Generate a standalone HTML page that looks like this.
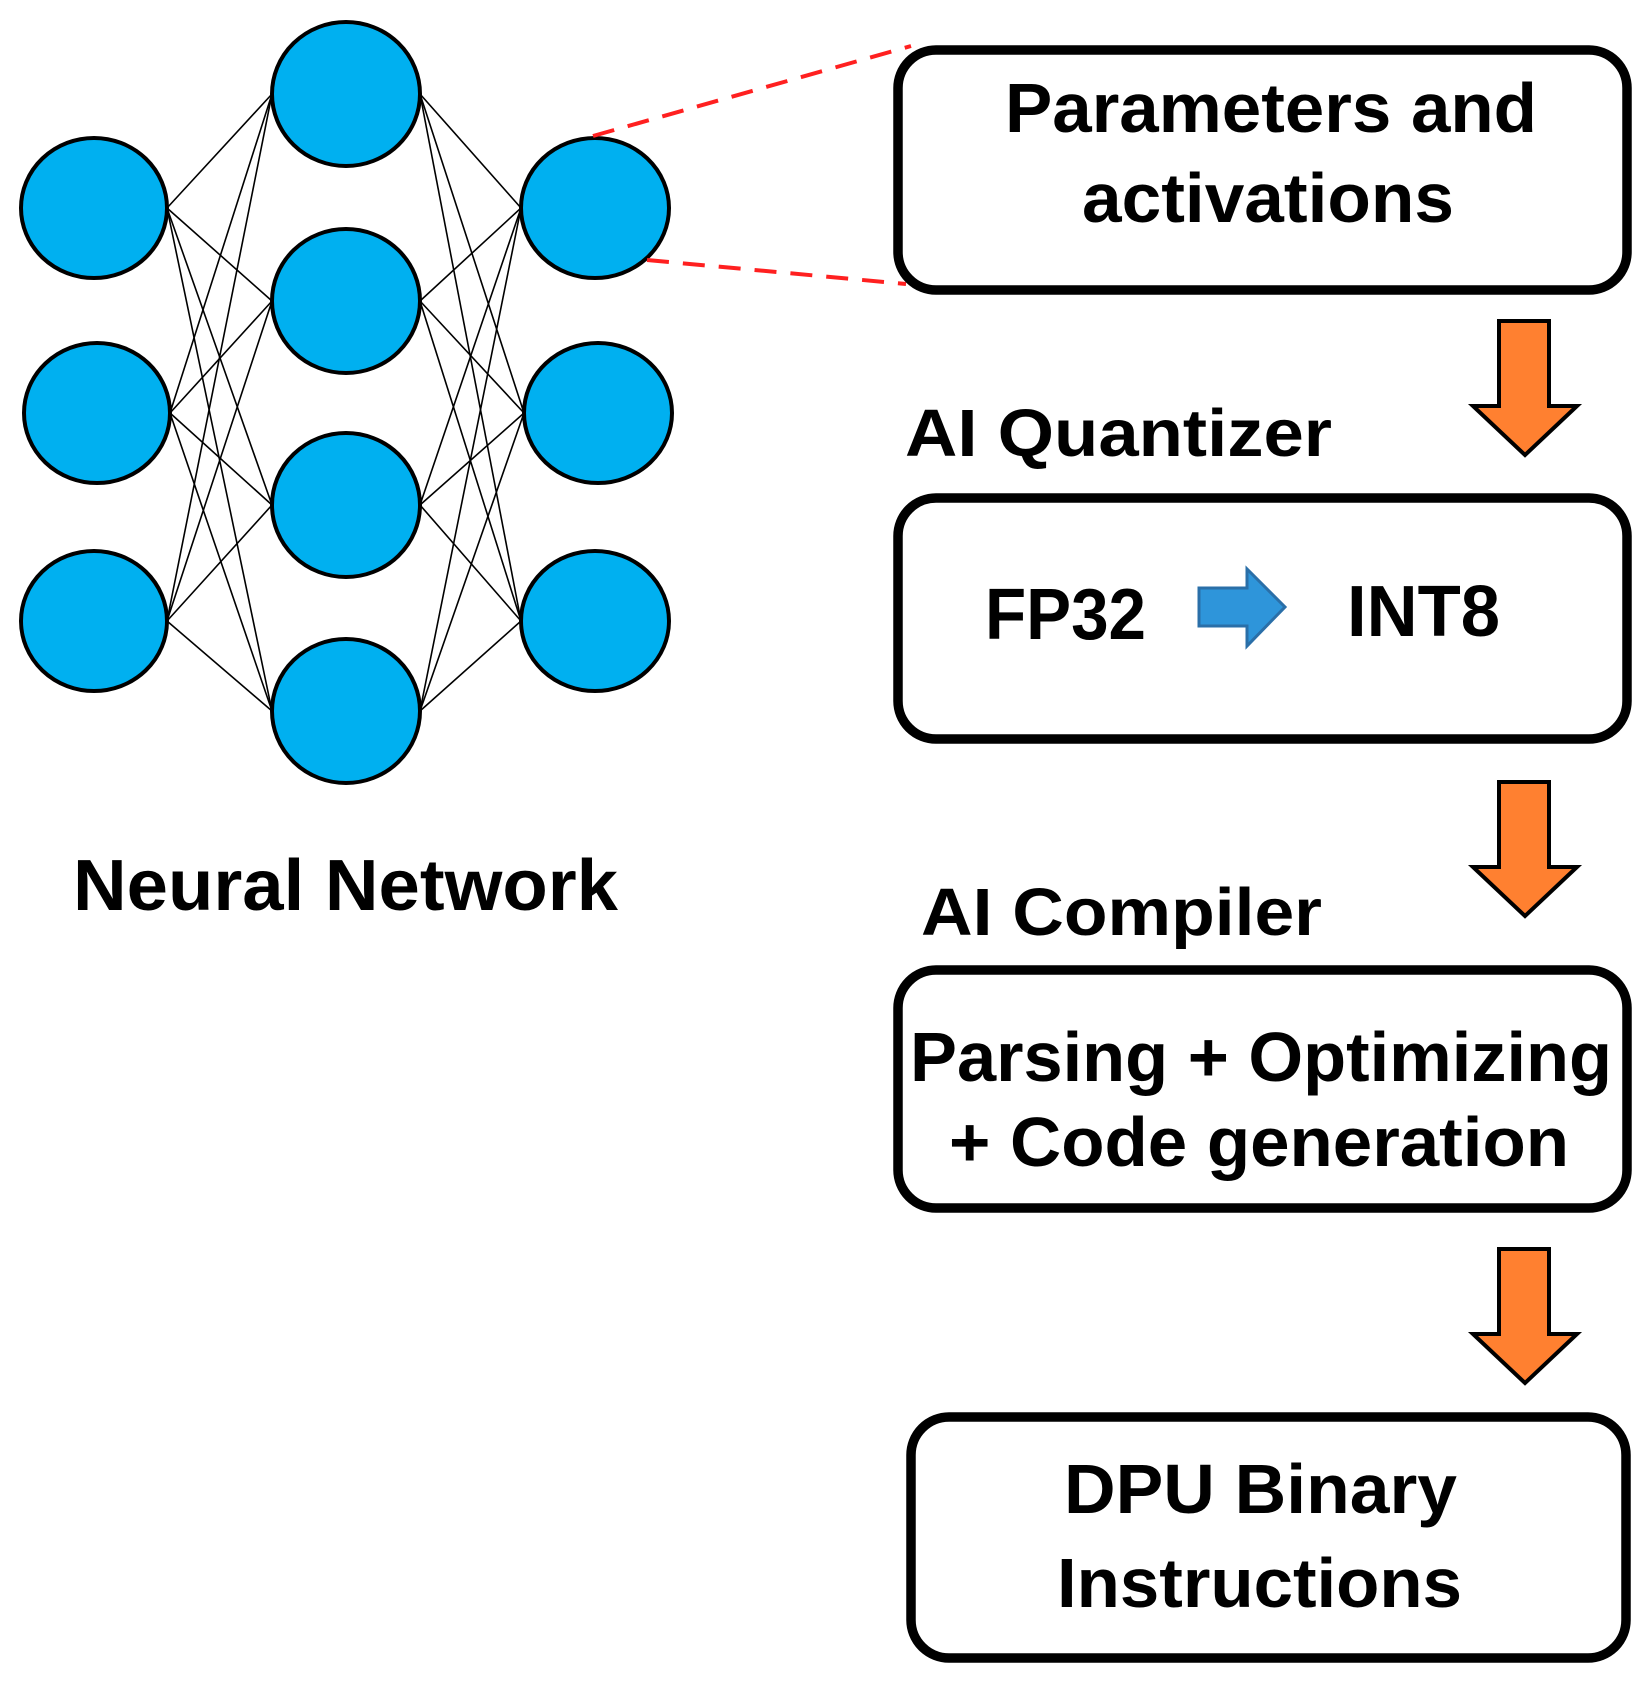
<!DOCTYPE html>
<html><head><meta charset="utf-8"><style>html,body{margin:0;padding:0;background:#fff}svg{display:block}</style></head>
<body>
<svg width="1650" height="1691" viewBox="0 0 1650 1691" xmlns="http://www.w3.org/2000/svg" font-family="'Liberation Sans', sans-serif" font-weight="bold">
<g stroke="#000" stroke-width="1.6">
<line x1="167" y1="208" x2="272" y2="94"/><line x1="167" y1="208" x2="272" y2="301"/><line x1="167" y1="208" x2="272" y2="505"/><line x1="167" y1="208" x2="272" y2="711"/>
<line x1="170" y1="413" x2="272" y2="94"/><line x1="170" y1="413" x2="272" y2="301"/><line x1="170" y1="413" x2="272" y2="505"/><line x1="170" y1="413" x2="272" y2="711"/>
<line x1="167" y1="621" x2="272" y2="94"/><line x1="167" y1="621" x2="272" y2="301"/><line x1="167" y1="621" x2="272" y2="505"/><line x1="167" y1="621" x2="272" y2="711"/>
<line x1="420" y1="94" x2="521" y2="208"/><line x1="420" y1="94" x2="524" y2="413"/><line x1="420" y1="94" x2="521" y2="621"/>
<line x1="420" y1="301" x2="521" y2="208"/><line x1="420" y1="301" x2="524" y2="413"/><line x1="420" y1="301" x2="521" y2="621"/>
<line x1="420" y1="505" x2="521" y2="208"/><line x1="420" y1="505" x2="524" y2="413"/><line x1="420" y1="505" x2="521" y2="621"/>
<line x1="420" y1="711" x2="521" y2="208"/><line x1="420" y1="711" x2="524" y2="413"/><line x1="420" y1="711" x2="521" y2="621"/>
</g>
<g fill="#00B0F0" stroke="#000" stroke-width="4">
<ellipse cx="94" cy="208" rx="73" ry="70"/><ellipse cx="97" cy="413" rx="73" ry="70"/><ellipse cx="94" cy="621" rx="73" ry="70"/>
<ellipse cx="346" cy="94" rx="74" ry="72"/><ellipse cx="346" cy="301" rx="74" ry="72"/><ellipse cx="346" cy="505" rx="74" ry="72"/><ellipse cx="346" cy="711" rx="74" ry="72"/>
<ellipse cx="595" cy="208" rx="74" ry="70"/><ellipse cx="598" cy="413" rx="74" ry="70"/><ellipse cx="595" cy="621" rx="74" ry="70"/>
</g>
<g stroke="#FF2020" stroke-width="4" stroke-dasharray="22,14" fill="none">
<line x1="593" y1="136" x2="911" y2="46"/>
<line x1="647" y1="260" x2="906" y2="284"/>
</g>
<text x="73" y="910" font-size="72" textLength="545" lengthAdjust="spacingAndGlyphs" fill="#000">Neural Network</text>
<g fill="#fff" stroke="#000" stroke-width="9.5">
<rect x="898" y="50" width="729" height="240" rx="38"/>
<rect x="898" y="498" width="729" height="241" rx="38"/>
<rect x="898" y="970" width="729" height="238" rx="38"/>
<rect x="911" y="1417" width="715" height="241" rx="38"/>
</g>
<g fill="#000">
<text x="1005" y="132" font-size="70" textLength="532" lengthAdjust="spacingAndGlyphs">Parameters and</text>
<text x="1082" y="222" font-size="70" textLength="372" lengthAdjust="spacingAndGlyphs">activations</text>
<text x="905" y="456" font-size="67" textLength="427" lengthAdjust="spacingAndGlyphs">AI Quantizer</text>
<text x="985" y="639" font-size="72" textLength="161" lengthAdjust="spacingAndGlyphs">FP32</text>
<text x="1347" y="636" font-size="72" textLength="153" lengthAdjust="spacingAndGlyphs">INT8</text>
<text x="921" y="935" font-size="67" textLength="401" lengthAdjust="spacingAndGlyphs">AI Compiler</text>
<text x="910" y="1081" font-size="70" textLength="702" lengthAdjust="spacingAndGlyphs">Parsing + Optimizing</text>
<text x="949" y="1166" font-size="70" textLength="620" lengthAdjust="spacingAndGlyphs">+ Code generation</text>
<text x="1064" y="1513" font-size="70" textLength="393" lengthAdjust="spacingAndGlyphs">DPU Binary</text>
<text x="1057" y="1607" font-size="70" textLength="405" lengthAdjust="spacingAndGlyphs">Instructions</text>
</g>
<path d="M1199 588 H1247 V569 L1285 607 L1247 646 V626 H1199 Z" fill="#2E95DA" stroke="#2A6FA8" stroke-width="3"/>
<g fill="#FF8030" stroke="#000" stroke-width="4" stroke-linejoin="miter">
<path d="M1499 321 H1549 V406 H1577 L1525 455 L1473 406 H1499 Z"/>
<path d="M1499 782 H1549 V867 H1577 L1525 916 L1473 867 H1499 Z"/>
<path d="M1499 1249 H1549 V1334 H1577 L1525 1383 L1473 1334 H1499 Z"/>
</g>
</svg>
</body></html>
